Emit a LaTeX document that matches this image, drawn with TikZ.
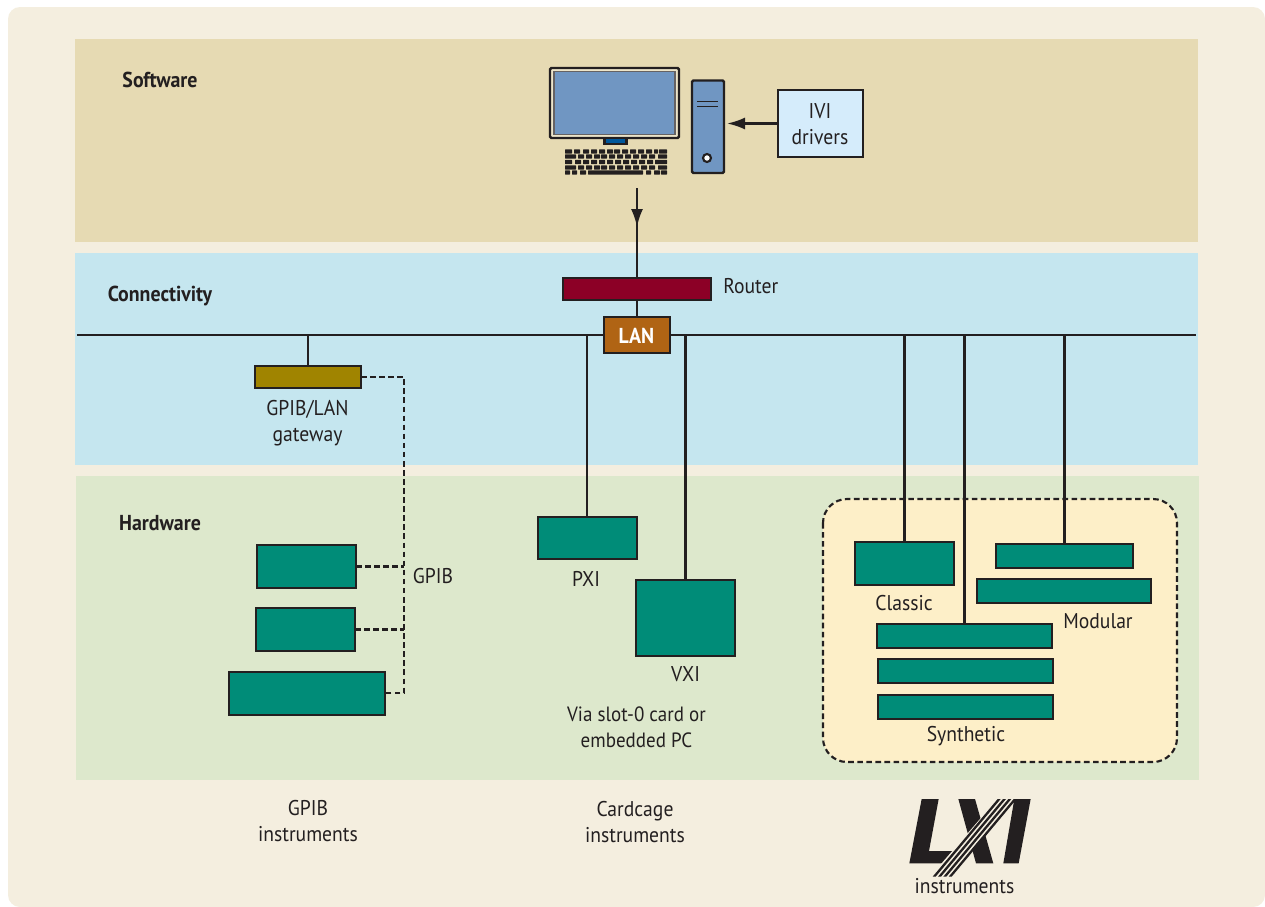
\documentclass[tikz,border=0pt]{standalone}
\usepackage{fontspec}
\setmainfont[FakeStretch=0.92]{PT Sans}
\usetikzlibrary{arrows.meta}
\definecolor{pagebg}{HTML}{F4EEDF}
\definecolor{softbg}{HTML}{E6DAB3}
\definecolor{connbg}{HTML}{C5E6EF}
\definecolor{hardbg}{HTML}{DDE8CC}
\definecolor{lxibg}{HTML}{FDEFC8}
\definecolor{teal1}{HTML}{008C78}
\definecolor{ink}{HTML}{231F20}
\definecolor{routerc}{HTML}{8C0026}
\definecolor{lanc}{HTML}{B06414}
\definecolor{gatec}{HTML}{A08400}
\definecolor{screenc}{HTML}{7096C2}
\definecolor{ivic}{HTML}{D5ECFB}
\definecolor{standc}{HTML}{00589C}
\tikzset{
  lab/.style={font=\fontsize{16pt}{19.5pt}\selectfont, text=ink, align=center, inner sep=0pt},
  head/.style={lab, font=\fontsize{16.2pt}{19.5pt}\selectfont\bfseries},
  wire/.style={draw=ink, line width=1.7pt},
  dwire/.style={draw=ink, line width=1.6pt, dash pattern=on 4.2pt off 2.6pt},
  arrowwire/.style={wire, -{Latex[length=13.5pt,width=9pt]}},
  box/.style={draw=ink, line width=1.8pt, inner sep=0pt, outer sep=0pt},
  tealbox/.style={box, fill=teal1},
}
% \bx{name}{style}{x0}{y0}{x1}{y1} : a node covering a pixel rectangle
\newcommand{\bx}[6]{\node[#2, minimum width={(#5-#3)*0.75pt}, minimum height={(#6-#4)*0.75pt}] (#1) at ({(#3+#5)/2},{(#4+#6)/2}) {};}
\begin{document}
\begin{tikzpicture}[x=0.75pt,y=-0.75pt]
\useasboundingbox (0,0) rectangle (1265,907);
\fill[white] (0,0) rectangle (1265,907);
\fill[pagebg, rounded corners=9pt] (8,7) rectangle (1265,907);
\fill[softbg] (75,39) rectangle (1198,242);
\fill[connbg] (75,253) rectangle (1198,465);
\fill[hardbg] (76,476) rectangle (1199,780);
\draw[fill=lxibg, dwire, rounded corners=18pt] (823,499) rectangle (1177,762);

% section heads
\node[head] (software) at (160,80) {Software};
\node[head] (connectivity) at (160,296) {Connectivity};
\node[head] (hardware) at (160,523) {Hardware};

% LAN bus
\coordinate (busL) at (77,335);
\coordinate (busR) at (1196,335);
\draw[wire] (busL) -- (busR);

% computer
\bx{monitor}{box, fill=softbg!70!white, rounded corners=1pt}{550}{68}{679}{138}
\bx{screen}{draw=ink!70, line width=0.8pt, fill=screenc, inner sep=0pt}{554}{71.5}{675}{134.5}
\bx{stand}{draw=ink, line width=1.7pt, fill=standc, inner sep=0pt}{604.5}{138}{626.5}{144}
\bx{tower}{box, fill=screenc, rounded corners=1pt}{692}{80.5}{724}{173}
\draw[ink, line width=1.3pt] (697,101.5) -- (718,101.5) (697,106.5) -- (718,106.5);
\node[circle, draw=ink, fill=white, line width=1.6pt, minimum size=6pt, inner sep=0pt] (power) at (707,158) {};
\bx{ivi}{box, fill=ivic}{778}{90}{863}{157}
\node[lab] (ivilabel) at (820,124) {IVI\\drivers};

% keyboard
\foreach \yy/\lst in {
  151.5/{565/572,574/580,583/589,591/597,599/605,607/613,614/620,622/628,630/636,638/644,646/652,654/658,659/667},
  156.5/{565/576,578/584,586/592,594/600,601/607,609/615,617/623,625/631,633/639,641/647,649/655,658/667},
  162/{565/572,575/581,583/589,591/597,599/605,607/613,615/621,623/629,631/637,639/645,647/653,655/667},
  167.5/{565/576,578/584,586/592,594/600,601/607,609/615,617/623,625/631,633/639,641/647,649/655,658/667},
  172.5/{565/570,572/577,580/586,588/643,646/651,654/660,661/667}}{
  \foreach \xa/\xb in \lst {
    \fill[ink, rounded corners=0.4pt] (\xa,\yy-2.2) rectangle (\xb,\yy+2.2);
  }
}

% network devices
\coordinate (pcout) at (637,188);
\coordinate (pctip) at (637,227);
\bx{router}{box, fill=routerc}{563}{278}{711}{300}
\node[lab, anchor=west] (routerlabel) at (723,286) {Router};
\draw[wire] (pcout) -- (router.north -| pcout);
\draw[arrowwire] (pcout) -- (pctip);
\bx{lan}{box, fill=lanc}{604}{317}{670}{353}
\node[head, text=white] (lanlabel) at (636.5,336) {LAN};
\draw[wire] (router.south -| lan) -- (lan.north);
\coordinate (ivitip) at (727,123.5);
\draw[arrowwire] (ivi.west |- ivitip) -- (ivitip);

% gateway
\bx{gateway}{box, fill=gatec}{255}{366}{361}{388}
\draw[wire] (gateway.north) -- (gateway.north |- busL);
\node[lab] (gatelabel) at (307.5,423.5) {GPIB/LAN\\gateway};

% GPIB instruments
\bx{gpiba}{tealbox}{257}{545}{356}{588}
\bx{gpibb}{tealbox}{256}{608}{355}{651}
\bx{gpibc}{tealbox}{229}{672}{385}{715}
\coordinate (gpibtop) at (404,377);
\coordinate (gpibbot) at (404,693);
\draw[dwire] (gateway.east |- gpibtop) -- (gpibtop) -- (gpibbot) -- (gpibc.east |- gpibbot);
\draw[dwire] (gpiba.east) -- (gpiba.east -| gpibtop);
\draw[dwire] (gpibb.east) -- (gpibb.east -| gpibtop);
\node[lab] (gpiblabel) at (433,576) {GPIB};
\node[lab] (gpibinst) at (308,821.5) {GPIB\\instruments};

% cardcage
\bx{pxi}{tealbox}{538}{517}{637}{559}
\node[lab] (pxilabel) at (586,579) {PXI};
\coordinate (pxibus) at (587,335);
\draw[wire] (pxibus) -- (pxibus |- pxi.north);
\bx{vxi}{tealbox}{636}{580}{735}{656}
\node[lab] (vxilabel) at (685.5,674.5) {VXI};
\draw[wire] (vxi.north) -- (vxi.north |- busL);
\node[lab, font=\fontsize{15.5pt}{19.5pt}\selectfont] (slotlabel) at (636.5,727.5) {Via slot-0 card or\\embedded PC};
\node[lab] (cardinst) at (635,822) {Cardcage\\instruments};

% LXI instruments
\bx{classic}{tealbox}{855}{542}{954}{585}
\node[lab] (classiclabel) at (904,603) {Classic};
\draw[wire] (classic.north) -- (classic.north |- busL);
\bx{moda}{tealbox}{996}{544}{1133}{568}
\bx{modb}{tealbox}{977}{579}{1151}{603}
\node[lab] (modlabel) at (1098,621) {Modular};
\draw[wire] (moda.north) -- (moda.north |- busL);
\bx{syna}{tealbox}{877}{624}{1052}{648}
\bx{synb}{tealbox}{878}{659}{1053}{683}
\bx{sync}{tealbox}{878}{695}{1053}{719}
\node[lab] (synlabel) at (966,736) {Synthetic};
\draw[wire] (syna.north) -- (syna.north |- busL);

% LXI logo
\begin{scope}[shift={(890,780)}, x=0.25pt, y=-0.25pt]
  \fill[ink] (95,57) -- (146,57) -- (117,213) -- (190,213) -- (178,250) -- (58,250) -- cycle;
  \fill[ink] (205,57) -- (255,57) -- (310,250) -- (258,250) -- cycle;
  \fill[ink] (373,57) -- (422,57) -- (386,250) -- (340,250) -- cycle;
  \fill[pagebg] (120,290) -- (322,57) -- (376,57) -- (204,255) -- (174,290) -- cycle;
  \foreach \d in {0,16,32,48}{
    \fill[ink] (128+\d,290) -- (323+\d,57) -- (332+\d,57) -- (137+\d,290) -- cycle;
  }
\end{scope}
\node[lab] (lxilabel) at (964.5,886.5) {instruments};
\end{tikzpicture}
\end{document}
